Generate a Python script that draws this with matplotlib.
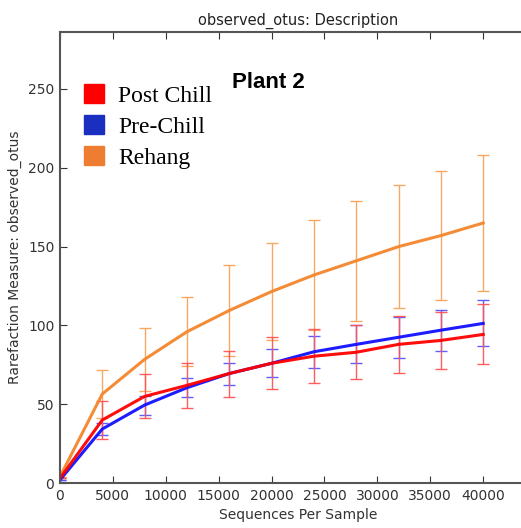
import numpy as np
import matplotlib
matplotlib.use("Agg")
from matplotlib import pyplot as plt
from matplotlib.patches import Patch

# datos
seqs = [0, 4000, 8000, 12000, 16000, 20000, 24000, 28000, 32000, 36000, 40000]
post_chill = [3, 40, 55, 62, 69.5, 76, 80.5, 83, 88, 90.5, 94.3]
post_chill_err = [0, 12, 14, 14.5, 14.6, 16.5, 17, 17, 18, 18, 19]
pre_chill = [2, 34.3, 49.5, 60.5, 69.5, 76, 83.3, 88, 92.5, 97, 101.3]
pre_chill_err = [0, 4, 6, 6, 7, 9, 10, 12, 13, 13, 14.6]
rehang = [4, 56.5, 78.5, 96, 109.5, 121.5, 132, 141, 150, 157, 165]
rehang_err = [0, 15, 20, 22, 29, 30.5, 35, 38, 39, 41, 43]

series = [
    ('Post Chill', post_chill, post_chill_err, '#ff0000', '#ff5555', '#ff0000'),
    ('Pre-Chill', pre_chill, pre_chill_err, '#1010ff', '#5555ff', '#1a2ec0'),
    ('Rehang', rehang, rehang_err, '#f4862c', '#f6a45a', '#ee7d31'),
]

fig = plt.figure(figsize=(5.21, 5.28), dpi=100)
ax = fig.add_axes([0.115, 0.085, 0.914, 0.854])

for name, y, err, col, ecol, lcol in series[::-1]:
    ax.errorbar(seqs, y, yerr=err, color=col, ecolor=ecol, elinewidth=1.0,
                capsize=4, capthick=1.0, lw=2.2, alpha=0.95)

ax.set_xlim(0, 45000)
ax.set_ylim(0, 286)
ax.set_xticks(range(0, 45000, 5000))
ax.set_yticks([0, 50, 100, 150, 200, 250])
ax.tick_params(direction='in', top=True, right=True, length=5,
               labelsize=10, colors='#333333', pad=4)
for s in ax.spines.values():
    s.set_color('#555555')
    s.set_linewidth(1.5)

ax.set_title('observed_otus: Description', fontsize=10.5, color='#222222', pad=5)
ax.set_xlabel('Sequences Per Sample', fontsize=10, color='#333333')
ax.set_ylabel('Rarefaction Measure: observed_otus', fontsize=10, color='#333333')

handles = [Patch(facecolor=s[5], edgecolor=s[5]) for s in series]
leg = ax.legend(handles, [s[0] for s in series], loc='upper left',
                bbox_to_anchor=(0.03, 0.905), frameon=False,
                prop={'family': 'Liberation Serif', 'size': 17},
                handlelength=0.85, handleheight=0.85, handletextpad=0.6,
                labelspacing=0.35, borderaxespad=0)

fig.text(0.445, 0.843, 'Plant 2', fontsize=16, fontweight='bold',
         family='Liberation Sans', ha='left', va='center')

fig.savefig('out.png', dpi=100)
